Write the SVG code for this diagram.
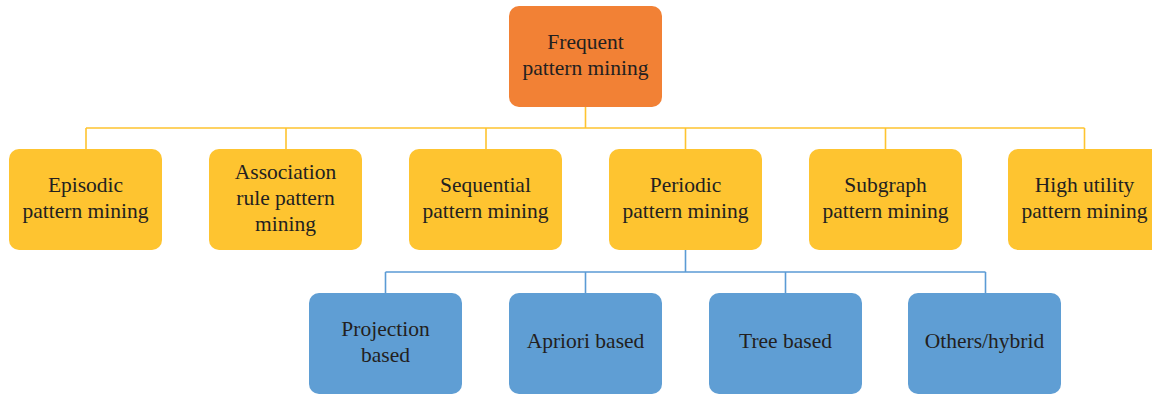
<svg xmlns="http://www.w3.org/2000/svg" width="1152" height="394" viewBox="0 0 1152 394">
<style>
.box{stroke:none}
.o{fill:#F28135}
.y{fill:#FEC430}
.b{fill:#5F9ED4}
.t{font-family:"Liberation Serif","Times New Roman",serif;font-size:21.5px;fill:#231F20;text-anchor:middle}
.ly{stroke:#FEC430;stroke-width:1.6;fill:none}
.lb{stroke:#5B9BD5;stroke-width:1.6;fill:none}
</style>
<rect width="1152" height="394" fill="#fff"/>
<g id="connectors">
<path class="ly" d="M585.5 107V128M86 128H1084.5M86 128V149M286 128V149M486 128V149M685.5 128V149M885.5 128V149M1084.5 128V149"/>
<path class="lb" d="M685.5 250V272M385.5 272H985.5M385.5 272V293M585.5 272V293M785.5 272V293M985.5 272V293"/>
</g>
<g id="n-frequent"><rect class="box o" x="509" y="6" width="153" height="101" rx="10"/><text class="t" x="585.5" y="49">Frequent</text><text class="t" x="585.5" y="75">pattern mining</text></g>
<g id="n-episodic"><rect class="box y" x="9" y="149" width="153" height="101" rx="10"/><text class="t" x="85.5" y="192">Episodic</text><text class="t" x="85.5" y="218">pattern mining</text></g>
<g id="n-association"><rect class="box y" x="209" y="149" width="153" height="101" rx="10"/><text class="t" x="285.5" y="179">Association</text><text class="t" x="285.5" y="205">rule pattern</text><text class="t" x="285.5" y="231">mining</text></g>
<g id="n-sequential"><rect class="box y" x="409" y="149" width="153" height="101" rx="10"/><text class="t" x="485.5" y="192">Sequential</text><text class="t" x="485.5" y="218">pattern mining</text></g>
<g id="n-periodic"><rect class="box y" x="609" y="149" width="153" height="101" rx="10"/><text class="t" x="685.5" y="192">Periodic</text><text class="t" x="685.5" y="218">pattern mining</text></g>
<g id="n-subgraph"><rect class="box y" x="809" y="149" width="153" height="101" rx="10"/><text class="t" x="885.5" y="192">Subgraph</text><text class="t" x="885.5" y="218">pattern mining</text></g>
<g id="n-highutility"><rect class="box y" x="1008" y="149" width="153" height="101" rx="10"/><text class="t" x="1084.5" y="192">High utility</text><text class="t" x="1084.5" y="218">pattern mining</text></g>
<g id="n-projection"><rect class="box b" x="309" y="293" width="153" height="101" rx="10"/><text class="t" x="385.5" y="336">Projection</text><text class="t" x="385.5" y="362">based</text></g>
<g id="n-apriori"><rect class="box b" x="509" y="293" width="153" height="101" rx="10"/><text class="t" x="585.5" y="348">Apriori based</text></g>
<g id="n-tree"><rect class="box b" x="709" y="293" width="153" height="101" rx="10"/><text class="t" x="785.5" y="348">Tree based</text></g>
<g id="n-others"><rect class="box b" x="908" y="293" width="153" height="101" rx="10"/><text class="t" x="984.5" y="348">Others/hybrid</text></g>
</svg>
